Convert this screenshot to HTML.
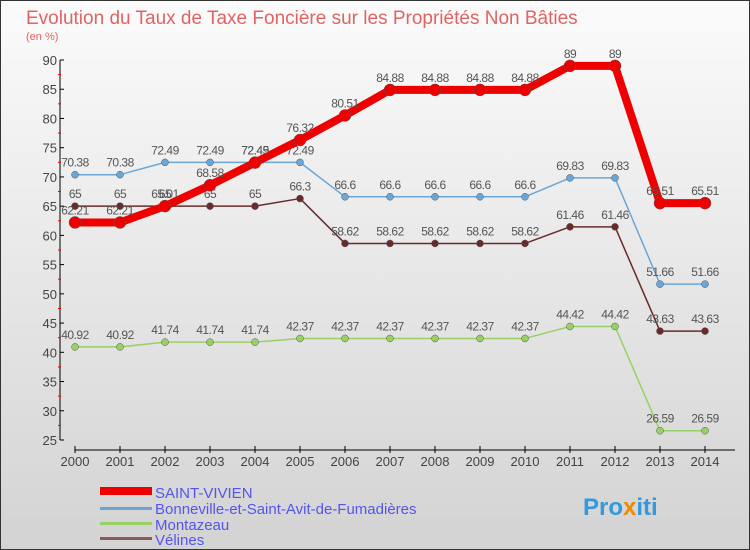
<!DOCTYPE html>
<html><head><meta charset="utf-8"><style>
body{margin:0;width:750px;height:550px;overflow:hidden;font-family:"Liberation Sans",sans-serif}
#c{position:absolute;left:0;top:0;width:748px;height:548px;border:1px solid #333;background:linear-gradient(#fbfbfb,#d3d3d3)}
</style></head><body>
<div id="c">
<svg width="750" height="550" style="position:absolute;left:-1px;top:-1px">
<text x="26" y="24" font-size="19" fill="#e06464">Evolution du Taux de Taxe Foncière sur les Propriétés Non Bâties</text>
<text x="26" y="40" font-size="11" fill="#e06464">(en %)</text>
<g id="axes"></g><g id="series"></g>
<g>
<rect x="100" y="487" width="52" height="8" fill="#e00"/>
<text x="155" y="498" font-size="15" fill="#5555ee">SAINT-VIVIEN</text>
<rect x="100" y="507" width="52" height="3" fill="#6aa6d6"/>
<text x="155" y="514" font-size="15" fill="#5555ee">Bonneville-et-Saint-Avit-de-Fumadières</text>
<rect x="100" y="522" width="52" height="3" fill="#99d066"/>
<text x="155" y="530" font-size="15" fill="#5555ee">Montazeau</text>
<rect x="100" y="537" width="52" height="3" fill="#8a5a5a"/>
<text x="155" y="545" font-size="15" fill="#5555ee">Vélines</text>
</g>
<text x="583" y="515" font-size="24" font-weight="bold" fill="#3399dd">Pro<tspan fill="#f08a00">x</tspan>iti</text>
</svg></div>
<script>
const years=["2000","2001","2002","2003","2004","2005","2006","2007","2008","2009","2010","2011","2012","2013","2014"];
const yTicks=[25,30,35,40,45,50,55,60,65,70,75,80,85,90];
const saintVivien=[62.21,62.21,65.01,68.58,72.45,76.32,80.51,84.88,84.88,84.88,84.88,89,89,65.51,65.51];
const bonneville=[70.38,70.38,72.49,72.49,72.49,72.49,66.6,66.6,66.6,66.6,66.6,69.83,69.83,51.66,51.66];
const montazeau=[40.92,40.92,41.74,41.74,41.74,42.37,42.37,42.37,42.37,42.37,42.37,44.42,44.42,26.59,26.59];
const velines=[65,65,65,65,65,66.3,58.62,58.62,58.62,58.62,58.62,61.46,61.46,43.63,43.63];
const NS="http://www.w3.org/2000/svg";
const xs=i=>75+i*45, ys=v=>60+(90-v)*380/65;
function mk(t,a,p){const e=document.createElementNS(NS,t);for(const k in a)e.setAttribute(k,a[k]);p.appendChild(e);return e;}
const ax=document.getElementById('axes');
let yl=mk('line',{x1:60,y1:60,x2:60,y2:440,stroke:'#000'},ax);


yTicks.forEach(v=>{
 mk('line',{x1:60,x2:64,y1:ys(v),y2:ys(v),stroke:'#000'},ax);
 if(v<90)mk('line',{x1:58,x2:61,y1:ys(v+2.5),y2:ys(v+2.5),stroke:'#e00'},ax);
 const t=mk('text',{x:57,y:ys(v)+5,'text-anchor':'end','font-size':13,fill:'#444'},ax);t.textContent=v;
 
 
});
let xl=mk('line',{x1:75,y1:450,x2:735,y2:450,stroke:'#000'},ax);


years.forEach((y,i)=>{
 mk('line',{x1:xs(i),x2:xs(i),y1:446,y2:453,stroke:'#000'},ax);
 const t=mk('text',{x:xs(i),y:466,'text-anchor':'middle','font-size':13,fill:'#444'},ax);t.textContent=y;
 
 
});
const sg=document.getElementById('series');
function series(d,col,w,r,name){
 const g=mk('g',{},sg);
 
 
 const pl=mk('polyline',{points:d.map((v,i)=>xs(i)+','+ys(v)).join(' '),fill:'none',stroke:col,'stroke-width':w,'stroke-linejoin':'round'},g);
 
 
 d.forEach((v,i)=>{
  const c=mk('circle',{cx:xs(i),cy:ys(v),r:r,fill:col,stroke:'#555','stroke-width':0.5},g);
  
  
  const t=mk('text',{x:xs(i),y:ys(v)-8,'text-anchor':'middle','font-size':12,fill:'#555','letter-spacing':'-0.5'},g);t.textContent=v;
  
  
 });
}
series(montazeau,'#99d066',1.5,3.5,'montazeau');
series(velines,'#6b2a2a',1.5,3.5,'velines');
series(bonneville,'#6aa6d6',1.5,3.5,'bonneville');
series(saintVivien,'#e00',8,6,'saint-vivien');
</script>
</body></html>
